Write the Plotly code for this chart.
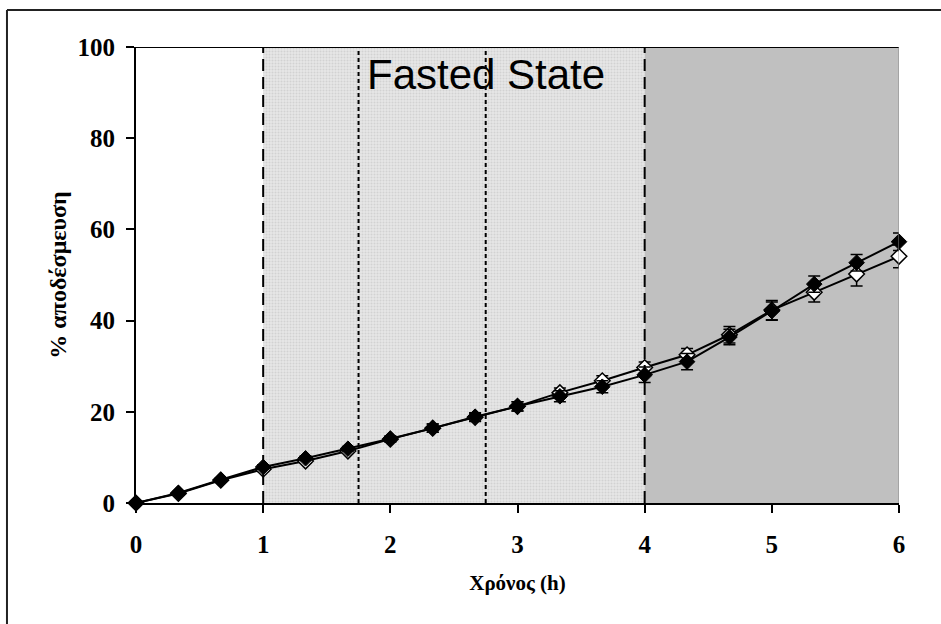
import plotly.graph_objects as go

# Sampling times (h) and % release for the two formulations
time_h = [0, 1/3, 2/3, 1, 4/3, 5/3, 2, 7/3, 8/3, 3, 10/3, 11/3, 4, 13/3, 14/3, 5, 16/3, 17/3, 6]
filled_vals = [0, 2.2, 5.1, 7.9, 9.8, 11.9, 14.1, 16.4, 18.9, 21.2, 23.4, 25.5, 28.1, 31.0, 36.4, 42.1, 48.0, 52.7, 57.3]
filled_err = [0, 0.3, 0.4, 0.5, 0.5, 0.5, 0.6, 0.9, 0.9, 1.0, 1.2, 1.3, 1.7, 1.8, 1.7, 2.0, 1.8, 1.8, 1.9]
open_vals = [0, 2.1, 5.0, 7.4, 9.2, 11.4, 14.0, 16.4, 18.8, 21.2, 24.2, 26.8, 29.7, 32.5, 36.9, 42.3, 46.2, 50.2, 54.1]
open_err = [0, 0.3, 0.4, 0.5, 0.5, 0.5, 0.6, 0.9, 0.9, 1.0, 1.0, 1.1, 1.2, 1.4, 1.8, 2.1, 2.1, 2.6, 2.5]

# Phase boundaries (h)
fasted_start, fasted_end, run_end = 1, 4, 6
inner_marks = [1.75, 2.75]
y_max = 100

x_ticks = [0, 1, 2, 3, 4, 5, 6]
y_ticks = [0, 20, 40, 60, 80, 100]

serif = "Liberation Serif, Times New Roman, serif"

fig = go.Figure()

# stippled fasted-state band
fig.add_trace(go.Scatter(
    x=[fasted_start, fasted_end, fasted_end, fasted_start, fasted_start],
    y=[0, 0, y_max, y_max, 0],
    mode="none", fill="toself", fillcolor="#dedede",
    fillpattern=dict(shape=".", size=3, solidity=0.4, fgcolor="#bdbdbd", bgcolor="#e7e7e7"),
    hoverinfo="skip", showlegend=False,
))
# grey band after the fasted state
fig.add_trace(go.Scatter(
    x=[fasted_end, run_end, run_end, fasted_end, fasted_end],
    y=[0, 0, y_max, y_max, 0],
    mode="none", fill="toself", fillcolor="#c0c0c0",
    hoverinfo="skip", showlegend=False,
))

fig.add_trace(go.Scatter(
    x=time_h, y=open_vals, mode="lines+markers", cliponaxis=False,
    line=dict(color="black", width=2),
    marker=dict(symbol="diamond", size=12, color="white", line=dict(color="black", width=1.5)),
    error_y=dict(type="data", array=open_err, color="black", thickness=1.5, width=6),
    showlegend=False,
))
fig.add_trace(go.Scatter(
    x=time_h, y=filled_vals, mode="lines+markers", cliponaxis=False,
    line=dict(color="black", width=2),
    marker=dict(symbol="diamond", size=12, color="black", line=dict(color="black", width=1)),
    error_y=dict(type="data", array=filled_err, color="black", thickness=1.5, width=6),
    showlegend=False,
))

shapes = []
for xv in (fasted_start, fasted_end):
    shapes.append(dict(type="line", xref="x", yref="y", x0=xv, x1=xv, y0=0, y1=y_max,
                       line=dict(color="black", width=2, dash="12px,6px"), layer="above"))
for xv in inner_marks:
    shapes.append(dict(type="line", xref="x", yref="y", x0=xv, x1=xv, y0=0, y1=y_max,
                       line=dict(color="black", width=2, dash="4px,3px"), layer="above"))
# plot-area top edge and right edge
shapes.append(dict(type="line", xref="x", yref="y", x0=0, x1=run_end, y0=y_max, y1=y_max,
                   line=dict(color="black", width=2), layer="above"))
shapes.append(dict(type="line", xref="x", yref="y", x0=run_end, x1=run_end, y0=0, y1=y_max,
                   line=dict(color="#888888", width=1), layer="above"))
# outer chart frame (left and top edges)
shapes.append(dict(type="line", xref="paper", yref="paper", x0=-0.1691, x1=-0.1691, y0=-0.27, y1=1.081,
                   line=dict(color="#222222", width=2)))
shapes.append(dict(type="line", xref="paper", yref="paper", x0=-0.1691, x1=1.1, y0=1.081, y1=1.081,
                   line=dict(color="#222222", width=2)))

fig.update_layout(
    width=941, height=624,
    margin=dict(l=136, r=42, t=47, b=121),
    paper_bgcolor="white", plot_bgcolor="white",
    shapes=shapes,
    annotations=[dict(
        x=inner_marks[1], y=94,
        xref="x", yref="y", text="Fasted State", showarrow=False,
        font=dict(family="Liberation Sans, Arial, sans-serif", size=42, color="black"),
    )],
    xaxis=dict(
        range=[0, run_end], tickvals=x_ticks, ticktext=[str(v) for v in x_ticks],
        showgrid=False, zeroline=False, showline=True, linecolor="black", linewidth=2,
        ticks="outside", ticklen=8, tickwidth=1.5, tickcolor="black",
        ticklabelstandoff=10,
        tickfont=dict(family=serif, size=25, color="black", weight="bold"),
        title=dict(text="<b>Χρόνος (h)</b>", font=dict(family=serif, size=21, color="black"), standoff=18),
    ),
    yaxis=dict(
        range=[0, y_max], tickvals=y_ticks, ticktext=[str(v) for v in y_ticks],
        showgrid=False, zeroline=False, showline=True, linecolor="black", linewidth=2,
        ticks="outside", ticklen=8, tickwidth=1.5, tickcolor="black",
        ticklabelstandoff=6,
        tickfont=dict(family=serif, size=25, color="black", weight="bold"),
        title=dict(text="<b>% αποδέσμευση</b>", font=dict(family=serif, size=24, color="black"), standoff=4),
    ),
)

fig.write_html("out.html")
